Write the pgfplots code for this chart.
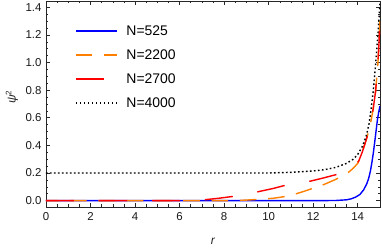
\documentclass[border=0pt]{standalone}
\usepackage{pgfplots}
\pgfplotsset{compat=1.18}
\usepackage{fontspec}
\setmainfont{Liberation Sans}
\definecolor{mblue}{rgb}{0,0,1}
\definecolor{morange}{rgb}{1,0.5,0}
\definecolor{mred}{rgb}{1,0,0}
\begin{document}
\begin{tikzpicture}
\begin{axis}[
  name=ax, scale only axis, width=334bp, height=206bp,
  xmin=0, xmax=15, ymin=-0.046, ymax=1.445,
  axis line style={black!85, line width=0.6bp},
  xtick={0,2,4,6,8,10,12,14},
  ytick={0,0.2,0.4,0.6,0.8,1.0,1.2,1.4},
  minor x tick num=3, minor y tick num=3,
  tick align=inside, xtick pos=both, ytick pos=both,
  major tick length=4bp, minor tick length=2.5bp,
  tick style={black!85, line width=0.5bp},
  /pgf/number format/assume math mode=true,
  tick label style={font=\fontsize{11.5}{13}\selectfont, text=black!90},
  y tick label style={/pgf/number format/fixed, /pgf/number format/fixed zerofill, /pgf/number format/precision=1, xshift=-1bp},
  x tick label style={yshift=-2bp},
  xlabel={\textit{r}},
  ylabel={\textit{ψ}\textsuperscript{2}},
  xlabel style={at={(axis description cs:0.5,-0.165)}, anchor=center, font=\fontsize{12}{14}\selectfont, text=black!85},
  ylabel style={at={(axis description cs:-0.102,0.534)}, anchor=center, font=\fontsize{12}{14}\selectfont, text=black!85},
  legend cell align=left,
  legend image code/.code={\draw[#1, dash phase=0pt] (0bp,0bp) -- (41bp,0bp);},
  legend style={draw=none, fill=none, at={(0.087,0.878)}, anchor=north west,
    inner sep=0pt, outer sep=0pt, font=\fontsize{14}{16}\selectfont,
    row sep=14.5bp,
    nodes={inner sep=0pt, outer sep=0pt, text height=9.5bp, text depth=0pt},
    /tikz/every odd column/.append style={column sep=9bp}},
]
\addplot[mblue, line width=1.4bp] coordinates {
(0,0) (12,0) (13,0.001) (13.5,0.006) (13.7,0.013) (13.9,0.025) (14.1,0.045) (14.26,0.077)
(14.4,0.12) (14.49,0.16) (14.57,0.215) (14.64,0.28) (14.7,0.345) (14.76,0.42)
(14.82,0.5) (14.88,0.58) (14.94,0.64) (15,0.685)};
\addlegendentry{N=525}
\addplot[morange, line width=1.4bp, dash pattern=on 16.7bp off 11.6bp, dash phase=4.3bp] coordinates {
(0,0) (8,0) (8.5,0.001) (9,0.004) (9.6,0.01) (10.2,0.017) (10.75,0.03) (11.2,0.048)
(11.6,0.068) (12,0.09) (12.5,0.118) (13,0.153) (13.3,0.178) (13.6,0.207) (13.8,0.235)
(14,0.27) (14.2,0.35) (14.4,0.45) (14.5,0.51) (14.6,0.58) (14.7,0.67) (14.8,0.79)
(14.9,0.98) (14.95,1.12) (15,1.34)};
\addlegendentry{N=2200}
\addplot[mred, line width=1.4bp, dash pattern=on 28bp off 25bp] coordinates {
(0,0) (6,0) (6.6,0.002) (7.15,0.007) (7.8,0.018) (8.42,0.031) (9,0.047) (9.54,0.065)
(10.2,0.088) (10.79,0.113) (11.35,0.128) (11.9,0.142) (12.5,0.166) (13.14,0.193)
(13.6,0.225) (13.85,0.25) (14.04,0.285) (14.2,0.35) (14.4,0.45) (14.5,0.51) (14.6,0.58)
(14.7,0.67) (14.8,0.79) (14.9,0.98) (14.95,1.12) (15,1.34)};
\addlegendentry{N=2700}
\addplot[black, line width=1.4bp, dash pattern=on 1.6bp off 2.4bp] coordinates {
(0,0.2) (10,0.2) (11,0.205) (12,0.215) (12.5,0.224) (13,0.24) (13.5,0.27) (13.8,0.3)
(14,0.335) (14.2,0.39) (14.3,0.43) (14.4,0.48) (14.5,0.55) (14.6,0.66) (14.7,0.8)
(14.8,0.98) (14.9,1.19) (15,1.43)};
\addlegendentry{N=4000}
\end{axis}
\pgfresetboundingbox
\path[use as bounding box] ([xshift=-46bp,yshift=-43bp]ax.south west) rectangle ([xshift=2bp,yshift=1bp]ax.north east);
\end{tikzpicture}
\end{document}
